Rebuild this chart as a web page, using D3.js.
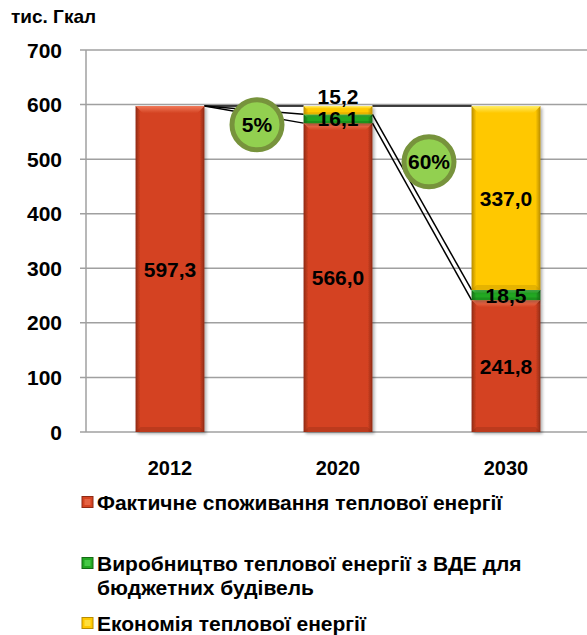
<!DOCTYPE html>
<html><head><meta charset="utf-8">
<script src="https://cdn.jsdelivr.net/npm/d3@7"></script>
<style>
body{margin:0;background:#fff;}
svg{display:block;font-family:"Liberation Sans",Arial,sans-serif;font-weight:bold;}
</style></head>
<body>
<svg id="c" width="587" height="635"></svg>
<script>
const years = ["2012","2020","2030"];
const seriesNames = ["Фактичне споживання теплової енергії","Виробництво теплової енергії з ВДЕ для|бюджетних будівель","Економія теплової енергії"];
const consumption = [597.3, 566.0, 241.8];
const renewable = [0, 16.1, 18.5];
const savings = [0, 15.2, 337.0];
const yTicks = [0,100,200,300,400,500,600,700];
const percentLabels = ["5%","60%"];
const unitLabel = "тис. Гкал";

const colors = [
  {base:"#D44322", dark:"#8E2A14", light:"#F07A5A"},
  {base:"#23A823", dark:"#146A14", light:"#5FE05F"},
  {base:"#FFC800", dark:"#B88C00", light:"#FFEE66"}
];

const svg = d3.select("#c");
const defs = svg.append("defs");
colors.forEach((c,i)=>{
  const g = defs.append("linearGradient").attr("id","g"+i).attr("x1","0").attr("x2","1").attr("y1","0").attr("y2","0");
  g.append("stop").attr("offset","0").attr("stop-color",c.dark);
  g.append("stop").attr("offset","0.07").attr("stop-color",c.base);
  g.append("stop").attr("offset","0.93").attr("stop-color",c.base);
  g.append("stop").attr("offset","1").attr("stop-color",c.dark);
  const t = defs.append("linearGradient").attr("id","t"+i).attr("x1","0").attr("x2","0").attr("y1","0").attr("y2","1");
  t.append("stop").attr("offset","0").attr("stop-color",c.light);
  t.append("stop").attr("offset","1").attr("stop-color",c.base);
});
const f = defs.append("filter").attr("id","sh").attr("x","-20%").attr("y","-20%").attr("width","150%").attr("height","150%");
f.append("feDropShadow").attr("dx",2).attr("dy",2).attr("stdDeviation",1.5).attr("flood-color","#000").attr("flood-opacity",0.3);

const y = d3.scaleLinear().domain([0,700]).range([432,50]);
const x = d3.scaleBand().domain(years).range([86,590]).paddingInner(0.59).paddingOuter(0.295);

// grid
svg.append("g").selectAll("line").data(yTicks).join("line")
  .attr("x1",80).attr("x2",587).attr("y1",d=>y(d)).attr("y2",d=>y(d))
  .attr("stroke","#a0a0a0").attr("stroke-width",1.5);
svg.append("line").attr("x1",86).attr("x2",86).attr("y1",y(700)).attr("y2",y(0))
  .attr("stroke","#a0a0a0").attr("stroke-width",1.5);

// y labels
svg.append("g").selectAll("text").data(yTicks).join("text")
  .attr("x",62).attr("y",d=>y(d)).attr("dy","0.36em").attr("text-anchor","end")
  .attr("font-size",21).text(d=>d);

svg.append("text").attr("x",11).attr("y",23).attr("font-size",19).text(unitLabel);

// stack
const rows = years.map((yr,i)=>({year:yr, s0:consumption[i], s1:renewable[i], s2:savings[i]}));
const stack = d3.stack().keys(["s0","s1","s2"])(rows);

// series lines
const lines = svg.append("g");
stack.forEach((layer)=>{
  for(let i=0;i<years.length-1;i++){
    lines.append("line")
      .attr("x1",x(years[i])+x.bandwidth()).attr("y1",y(layer[i][1]))
      .attr("x2",x(years[i+1])).attr("y2",y(layer[i+1][1]))
      .attr("stroke","#000").attr("stroke-width",1.5);
  }
});

// bars
const bars = svg.append("g");
stack.forEach((layer,li)=>{
  layer.forEach((d,i)=>{
    const h = y(d[0])-y(d[1]);
    if(h<=0) return;
    const bx = x(years[i]), bw = x.bandwidth(), by = y(d[1]);
    bars.append("rect").attr("x",bx).attr("y",by).attr("width",bw).attr("height",h)
      .attr("fill","url(#g"+li+")").attr("filter","url(#sh)");
    const th = Math.min(7,h/3);
    bars.append("path").attr("d",`M${bx},${by}L${bx+bw},${by}L${bx+bw-th},${by+th}L${bx+th},${by+th}Z`)
      .attr("fill","url(#t"+li+")");
    const bh = Math.min(5,h/4);
    bars.append("path").attr("d",`M${bx},${by+h}L${bx+bw},${by+h}L${bx+bw-bh},${by+h-bh}L${bx+bh},${by+h-bh}Z`)
      .attr("fill",colors[li].dark).attr("opacity",0.35);
  });
});

// value labels
const fmt = v=>v.toFixed(1).replace(".",",");
const lab = svg.append("g").attr("font-size",21).attr("text-anchor","middle");
stack.forEach((layer,li)=>{
  layer.forEach((d,i)=>{
    const v = d[1]-d[0];
    if(v<=0) return;
    const cx = x(years[i])+x.bandwidth()/2;
    let cy = y((d[0]+d[1])/2);
    if(li===2 && v<17) cy = y(d[1])-10;
    lab.append("text").attr("x",cx).attr("y",cy).attr("dy","0.36em").text(fmt(v));
  });
});

// percent circles
const circ = svg.append("g");
percentLabels.forEach((p,i)=>{
  const cx = (x(years[i])+x.bandwidth()+x(years[i+1]))/2 + (i===0?3:7);
  const cy = i===0 ? y(563) : y(495);
  circ.append("circle").attr("cx",cx).attr("cy",cy).attr("r",25)
    .attr("fill","#92D050").attr("stroke","#77933C").attr("stroke-width",5);
  circ.append("text").attr("x",cx).attr("y",cy).attr("dy","0.36em").attr("text-anchor","middle")
    .attr("font-size",21).text(p);
});

// x labels
svg.append("g").selectAll("text").data(years).join("text")
  .attr("x",d=>x(d)+x.bandwidth()/2).attr("y",468).attr("dy","0.36em")
  .attr("text-anchor","middle").attr("font-size",20).text(d=>d);

// legend
const legY = [502, 563, 623];
const leg = svg.append("g").attr("font-size",21);
seriesNames.forEach((n,i)=>{
  const c = colors[i];
  leg.append("rect").attr("x",82).attr("y",legY[i]-5.5).attr("width",11).attr("height",11)
    .attr("fill",c.base).attr("stroke",c.dark).attr("stroke-width",1);
  leg.append("rect").attr("x",84.5).attr("y",legY[i]-3).attr("width",6).attr("height",6)
    .attr("fill",c.light).attr("opacity",0.6);
  n.split("|").forEach((ln,j)=>{
    leg.append("text").attr("x",97).attr("y",legY[i]+j*24).attr("dy","0.36em").text(ln);
  });
});
</script>
</body></html>
